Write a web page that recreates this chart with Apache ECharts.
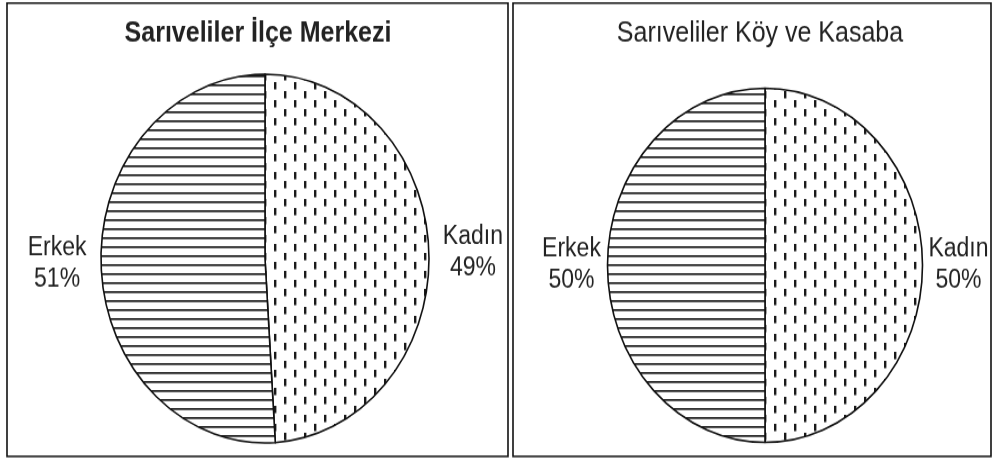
<!DOCTYPE html>
<html>
<head>
<meta charset="utf-8">
<script src="https://cdn.jsdelivr.net/npm/echarts@6.0.0/dist/echarts.min.js"></script>
<style>
  html, body { margin: 0; padding: 0; background: #fff; }
  body { width: 997px; height: 462px; }
  /* the scanned original is stretched vertically, so the chart is too */
  #chart { width: 997px; height: 411px; transform: scaleY(1.1241); transform-origin: 0 0; }
</style>
</head>
<body>
<div id="chart"></div>
<script>
// data
const panelTitles = ['Sarıveliler İlçe Merkezi', 'Sarıveliler Köy ve Kasaba'];
const categories = ['Kadın', 'Erkek'];
const ilceMerkezi = [49, 51];
const koyKasaba = [50, 50];

// fill patterns
function hatchLines() {
  var c = document.createElement('canvas');
  c.width = 8; c.height = 8;
  var g = c.getContext('2d');
  g.fillStyle = '#fff';
  g.fillRect(0, 0, 8, 8);
  g.fillStyle = '#1a1a1a';
  g.fillRect(0, 3, 8, 1.7);
  return c;
}
function dashes() {
  var c = document.createElement('canvas');
  c.width = 20; c.height = 16;
  var g = c.getContext('2d');
  g.fillStyle = '#fff';
  g.fillRect(0, 0, 20, 16);
  g.fillStyle = '#1a1a1a';
  g.fillRect(4, 1, 2.4, 6.5);
  g.fillRect(14, 9, 2.4, 6.5);
  return c;
}
var fills = {
  'Kadın': { image: dashes(), repeat: 'repeat' },
  'Erkek': { image: hatchLines(), repeat: 'repeat' }
};

function pieData(values) {
  return categories.map(function (name, i) {
    return { name: name, value: values[i], itemStyle: { color: fills[name] } };
  });
}

function pieSeries(values, center, radius, dist) {
  return {
    type: 'pie',
    center: center,
    radius: radius,
    startAngle: 90,
    clockwise: true,
    silent: true,
    avoidLabelOverlap: false,
    data: pieData(values),
    itemStyle: { borderColor: '#111', borderWidth: 1.6 },
    label: {
      position: 'outside',
      distanceToLabelLine: dist,
      formatter: function (p) {
        return '{t|' + p.name + '\n' + Math.round(p.percent) + '%}';
      },
      rich: {
        t: { width: 72, align: 'center', fontSize: 23, lineHeight: 28, color: '#222',
             fontFamily: '"Liberation Sans", Arial, sans-serif' }
      }
    },
    labelLine: { show: false, length: 0, length2: 0 },
    emphasis: { disabled: true }
  };
}

var chart = echarts.init(document.getElementById('chart'));

var option = {
  backgroundColor: '#fff',
  animation: false,
  graphic: [
    { type: 'rect', shape: { x: 7, y: 2.7, width: 501, height: 403.3 },
      style: { fill: 'none', stroke: '#111', lineWidth: 1.6 } },
    { type: 'rect', shape: { x: 513, y: 2.7, width: 478, height: 403.3 },
      style: { fill: 'none', stroke: '#111', lineWidth: 1.6 } },
    { type: 'text', x: 258, y: 30,
      style: { text: panelTitles[0], textAlign: 'center', textVerticalAlign: 'middle',
               font: 'bold 25px "Liberation Sans", Arial, sans-serif', fill: '#222' } },
    { type: 'text', x: 760, y: 30,
      style: { text: panelTitles[1], textAlign: 'center', textVerticalAlign: 'middle',
               font: '25px "Liberation Sans", Arial, sans-serif', fill: '#222' } }
  ],
  series: [
    pieSeries(ilceMerkezi, [265, 230], 164, 8),
    pieSeries(koyKasaba, [765, 236], 157.5, 0)
  ]
};

chart.setOption(option);
</script>
</body>
</html>
